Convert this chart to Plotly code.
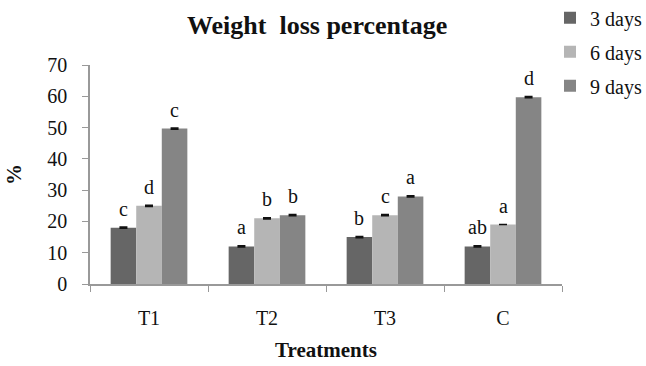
import plotly.graph_objects as go

categories = ["T1", "T2", "T3", "C"]
series_names = ["3 days", "6 days", "9 days"]
values_3 = [18, 12, 15, 12]
values_6 = [25, 21, 22, 19]
values_9 = [49.7, 22, 28, 59.7]
errors_3 = [0.2, 0.2, 0.2, 0.2]
errors_6 = [0.2, 0.2, 0.2, 0.0]
errors_9 = [0.2, 0.2, 0.2, 0.2]
letters_3 = ["c", "a", "b", "ab"]
letters_6 = ["d", "b", "c", "a"]
letters_9 = ["c", "b", "a", "d"]
colors = ["#666666", "#b5b5b5", "#858585"]
y_ticks = [0, 10, 20, 30, 40, 50, 60, 70]

SERIF = "Liberation Serif, Times New Roman, serif"

W, H = 646, 366
ML, MR, MT, MB = 90, 84, 65, 82
plot_w = W - ML - MR
plot_h = H - MT - MB
bargap = 0.35
cat_w = plot_w / len(categories)
bar_w = cat_w * (1 - bargap) / 3

fig = go.Figure()
annotations = []
for i, (name, vals, errs, labs) in enumerate(zip(
        series_names, [values_3, values_6, values_9],
        [errors_3, errors_6, errors_9], [letters_3, letters_6, letters_9])):
    fig.add_trace(go.Bar(
        x=categories, y=vals, name=name,
        marker=dict(color=colors[i], line=dict(width=0)),
        error_y=dict(type="data", array=errs, color="#111111", thickness=1.5, width=4),
        legendgroup=name,
    ))
    for cat, v, lab in zip(categories, vals, labs):
        annotations.append(dict(
            x=cat, y=v, xref="x", yref="y", text=lab, showarrow=False,
            xshift=(i - 1) * bar_w, yshift=19, xanchor="center", yanchor="middle",
            font=dict(family=SERIF, size=20, color="#111111")))

annotations.append(dict(
    text="<b>Weight  loss percentage</b>", xref="paper", yref="paper",
    x=(317 - ML) / plot_w, y=(H - MB - 25) / plot_h, xanchor="center", yanchor="middle",
    showarrow=False, font=dict(family=SERIF, size=26, color="#111111")))

fig.update_layout(
    width=W, height=H,
    margin=dict(l=ML, r=MR, t=MT, b=MB, autoexpand=False),
    paper_bgcolor="white", plot_bgcolor="white",
    barmode="group", bargap=bargap, bargroupgap=0,
    font=dict(family=SERIF, size=18, color="#111111"),
    showlegend=True,
    legend=dict(x=(550 - ML) / plot_w, y=1.305, xanchor="left", yanchor="top",
                font=dict(family=SERIF, size=20, color="#111111"),
                tracegroupgap=5, traceorder="grouped", itemwidth=30),
    annotations=annotations,
)

fig.update_xaxes(
    type="category", showline=True, linecolor="#999999", linewidth=1.5,
    ticks="outside", tickson="boundaries", ticklen=6, tickcolor="#999999",
    ticklabelstandoff=15,
    tickfont=dict(family=SERIF, size=20, color="#111111"),
    title=dict(text="<b>Treatments</b>", font=dict(family=SERIF, size=21, color="#111111"), standoff=15),
    showgrid=False,
)
fig.update_yaxes(
    range=[0, 70], tickvals=y_ticks, showline=True, linecolor="#999999", linewidth=1.5,
    ticks="outside", ticklen=6, tickcolor="#999999",
    ticklabelstandoff=11,
    tickfont=dict(family=SERIF, size=20, color="#111111"),
    title=dict(text="<b>%</b>", font=dict(family=SERIF, size=21, color="#111111"), standoff=20),
    showgrid=False, zeroline=False,
)

fig.write_html("out.html", config={"displayModeBar": False},
               post_script="document.body.style.margin='0';")
